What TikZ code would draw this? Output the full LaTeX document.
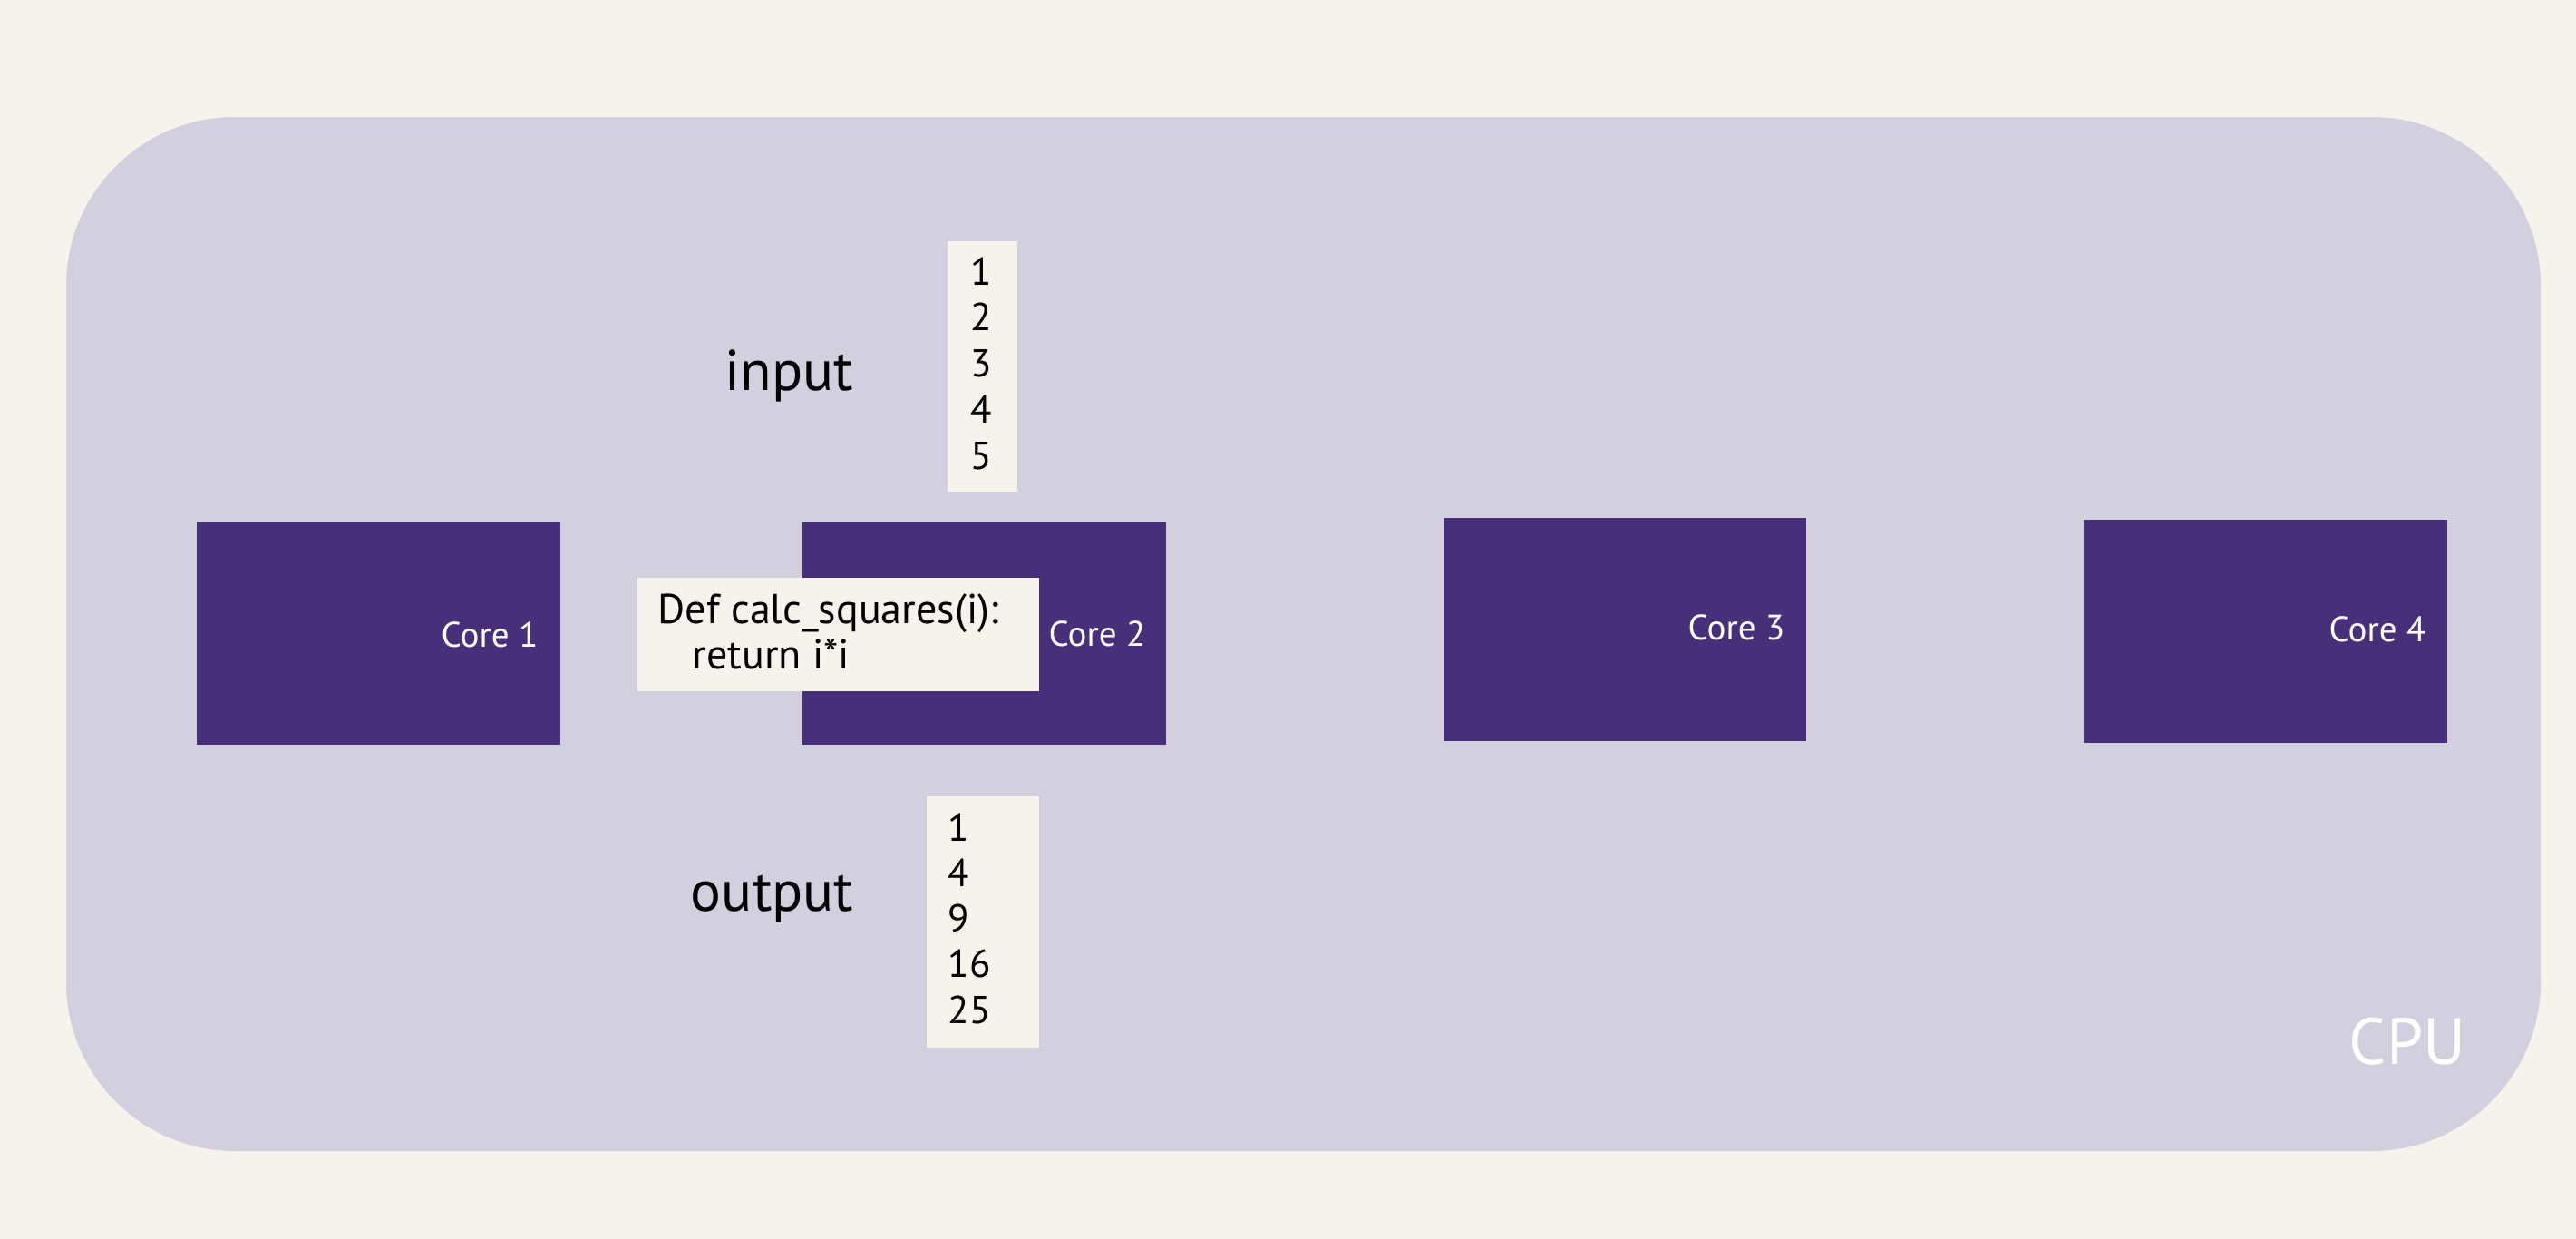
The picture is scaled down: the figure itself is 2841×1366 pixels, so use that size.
\documentclass[tikz,border=0pt]{standalone}
\usepackage{fontspec}
\setmainfont{PT Sans}
\definecolor{bgcream}{RGB}{245,243,235}
\definecolor{cpufill}{RGB}{210,208,223}
\definecolor{corefill}{RGB}{72,47,122}
\begin{document}
\begin{tikzpicture}[x=0.01cm,y=-0.01cm,
  corebox/.style={rectangle,fill=corefill,draw=none,minimum width=4.00cm,minimum height=2.45cm,inner sep=0pt},
  paper/.style={rectangle,fill=bgcream,draw=none,inner sep=0pt},
  corelabel/.style={text=white,font=\fontsize{11.1pt}{13pt}\selectfont,inner sep=0pt},
  codetext/.style={text=black,font=\fontsize{13.1pt}{14pt}\selectfont,inner sep=0pt},
  numtext/.style={text=black,font=\fontsize{12.2pt}{14pt}\selectfont,inner sep=0pt},
  bigtext/.style={text=black,font=\fontsize{18pt}{22pt}\selectfont,inner sep=0pt}]
\fill[bgcream] (0,0) rectangle (2841,1366);
\useasboundingbox (0,0) rectangle (2841,1366);
% CPU
\fill[cpufill,rounded corners=1.86cm] (73,129) rectangle (2802,1269);
\node[text=white,font=\fontsize{20.5pt}{25pt}\selectfont,inner sep=0pt,anchor=base east] (cpu) at (2720,1173) {CPU};
% cores
\node[corebox] (core1) at (417.5,698.5) {};
\node[corebox] (core2) at (1085.5,698.5) {};
\node[corebox] (core3) at (1792,694) {};
\node[corebox] (core4) at (2498.5,696) {};
\node[corelabel,anchor=base east] (c1lab) at (594,713) {Core 1};
\node[corelabel,anchor=base east] (c2lab) at (1264,712) {Core 2};
\node[corelabel,anchor=base east] (c3lab) at (1969,705) {Core 3};
\node[corelabel,anchor=base east] (c4lab) at (2676,707) {Core 4};
% code box
\node[paper,minimum width=4.43cm,minimum height=1.25cm] (code) at (924.5,699.5) {};
\node[codetext,anchor=base west] (code1) at (725,687) {Def calc\_squares(i):};
\node[codetext,anchor=base west] (code2) at (763,737) {return i*i};
% input
\node[bigtext,anchor=base east] (inlab) at (942,430) {input};
\node[paper,minimum width=0.77cm,minimum height=2.76cm] (inbox) at (1083.5,404) {};
\node[numtext,anchor=base west] (in1) at (1070,314) {1};
\node[numtext,anchor=base west] (in2) at (1070,364.75) {2};
\node[numtext,anchor=base west] (in3) at (1070,415.5) {3};
\node[numtext,anchor=base west] (in4) at (1070,466.25) {4};
\node[numtext,anchor=base west] (in5) at (1070,517) {5};
% output
\node[bigtext,anchor=base east] (outlab) at (942,1004) {output};
\node[paper,minimum width=1.24cm,minimum height=2.77cm] (outbox) at (1084,1016.5) {};
\node[numtext,anchor=base west] (out1) at (1045,927) {1};
\node[numtext,anchor=base west] (out2) at (1045,977.25) {4};
\node[numtext,anchor=base west] (out3) at (1045,1027.5) {9};
\node[numtext,anchor=base west] (out4) at (1045,1077.75) {16};
\node[numtext,anchor=base west] (out5) at (1045,1128) {25};
\end{tikzpicture}
\end{document}
